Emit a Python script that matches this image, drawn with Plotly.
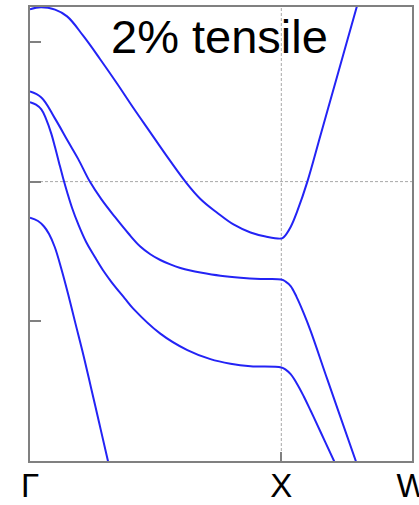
import plotly.graph_objects as go

# High-symmetry points along the path (distance in units of 2*pi/a)
k_labels = ["Γ", "X", "W"]
k_points = [0.0, 1.0, 1.52]

# Band energies (eV, relative to E_F) sampled along Γ–X–W
band1_k = [0.0, 0.0439, 0.0997, 0.1476, 0.2114, 0.2792, 0.3470, 0.4108, 0.4787, 0.5465,
           0.6183, 0.6781, 0.7459, 0.8097, 0.8775, 0.9374, 1.0, 1.0104, 1.0371, 1.0638,
           1.1037, 1.1568, 1.2234, 1.3004, 1.3084]
band1_e = [0.6172, 0.6244, 0.6154, 0.5914, 0.5222, 0.4380, 0.3502, 0.2642, 0.1763, 0.0885,
           0.0, -0.0620, -0.1122, -0.1534, -0.1821, -0.1964, -0.2036, -0.1982, -0.1624, -0.1050,
           0.0, 0.1688, 0.3806, 0.6262, 0.6513]

band2_k = [0.0, 0.0451, 0.0985, 0.1516, 0.1915, 0.2381, 0.2844, 0.3379, 0.3909, 0.4388,
           0.4787, 0.5185, 0.5584, 0.5983, 0.6382, 0.6781, 0.7579, 0.8376, 0.9174, 1.0,
           1.0172, 1.0371, 1.0610, 1.0890, 1.1169, 1.1835, 1.2964, 1.3084]
band2_e = [0.3226, 0.3011, 0.2272, 0.1434, 0.0814, 0.0, -0.0638, -0.1265, -0.1849, -0.2323,
           -0.2599, -0.2806, -0.2964, -0.3090, -0.3183, -0.3254, -0.3369, -0.3441, -0.3484, -0.3505,
           -0.3577, -0.3738, -0.4133, -0.4706, -0.5351, -0.7090, -1.0, -1.0297]

band3_k = [0.0, 0.0239, 0.0451, 0.0638, 0.0850, 0.0997, 0.1157, 0.1316, 0.1476, 0.1675,
           0.1915, 0.2234, 0.2581, 0.2912, 0.3243, 0.3777, 0.4108, 0.5185, 0.6262, 0.7180,
           0.7978, 0.8775, 1.0,
           1.0172, 1.0371, 1.0610, 1.0890, 1.1169, 1.1568, 1.2098, 1.2206]
band3_e = [0.2846, 0.2756, 0.2588, 0.2247, 0.1710, 0.1226, 0.0670, 0.0133, -0.0369, -0.0943,
           -0.1516, -0.2161, -0.2699, -0.3183, -0.3595, -0.4186, -0.4545, -0.5441, -0.6032, -0.6355,
           -0.6516, -0.6606, -0.6652,
           -0.6731, -0.6892, -0.7215, -0.7681, -0.8201, -0.8971, -1.0, -1.0208]

band4_k = [0.0, 0.0319, 0.0558, 0.0758, 0.0985, 0.1249, 0.1516, 0.1795, 0.2126, 0.2433,
           0.2752, 0.3091, 0.3191]
band4_e = [-0.1290, -0.1409, -0.1606, -0.1875, -0.2341, -0.3129, -0.4025, -0.5029, -0.6211, -0.7394,
           -0.8631, -0.9957, -1.0333]

bands = [(band1_k, band1_e), (band2_k, band2_e), (band3_k, band3_e), (band4_k, band4_e)]

e_fermi = 0.0
e_range = [-1.0, 0.625]
e_ticks = [-0.5, 0.0, 0.5]
title_text = "2% tensile"

line_color = "#2323f5"
frame_color = "#808080"
grid_color = "#a8a8a8"
font_family = "Liberation Sans, Arial"

fig = go.Figure()
for bk, be in bands:
    fig.add_trace(go.Scatter(
        x=bk, y=be, mode="lines",
        line=dict(color=line_color, width=2, shape="spline", smoothing=1.1),
        showlegend=False, hoverinfo="skip",
    ))

# Dashed guides at E_F and at the X point
fig.add_shape(type="line", xref="x", yref="y", layer="below",
              x0=k_points[0], x1=k_points[-1], y0=e_fermi, y1=e_fermi,
              line=dict(color=grid_color, width=1, dash="3px,2px"))
fig.add_shape(type="line", xref="x", yref="y", layer="below",
              x0=k_points[1], x1=k_points[1], y0=e_range[0], y1=e_range[1],
              line=dict(color=grid_color, width=1, dash="3px,2px"))

fig.add_annotation(text=title_text, xref="paper", yref="paper",
                   x=0.497, y=0.934, xanchor="center", yanchor="middle",
                   showarrow=False,
                   font=dict(family=font_family, size=47, color="black"))

fig.update_xaxes(
    range=[k_points[0], k_points[-1]],
    tickvals=k_points, ticktext=k_labels,
    ticks="inside", ticklen=9, tickwidth=1.5, tickcolor=frame_color,
    tickfont=dict(family=font_family, size=33, color="black"),
    ticklabeloverflow="allow", ticklabelstandoff=-6,
    automargin=False,
    showgrid=False, zeroline=False,
    showline=True, linecolor=frame_color, linewidth=2, mirror=True,
)
fig.update_yaxes(
    range=e_range, tickvals=e_ticks, showticklabels=False,
    ticks="inside", ticklen=11, tickwidth=1.5, tickcolor=frame_color,
    automargin=False,
    showgrid=False, zeroline=False,
    showline=True, linecolor=frame_color, linewidth=2, mirror=True,
)

fig.update_layout(
    width=419, height=505,
    margin=dict(l=30, r=7, t=7, b=44),
    paper_bgcolor="white", plot_bgcolor="white",
)

fig.write_html("out.html")
